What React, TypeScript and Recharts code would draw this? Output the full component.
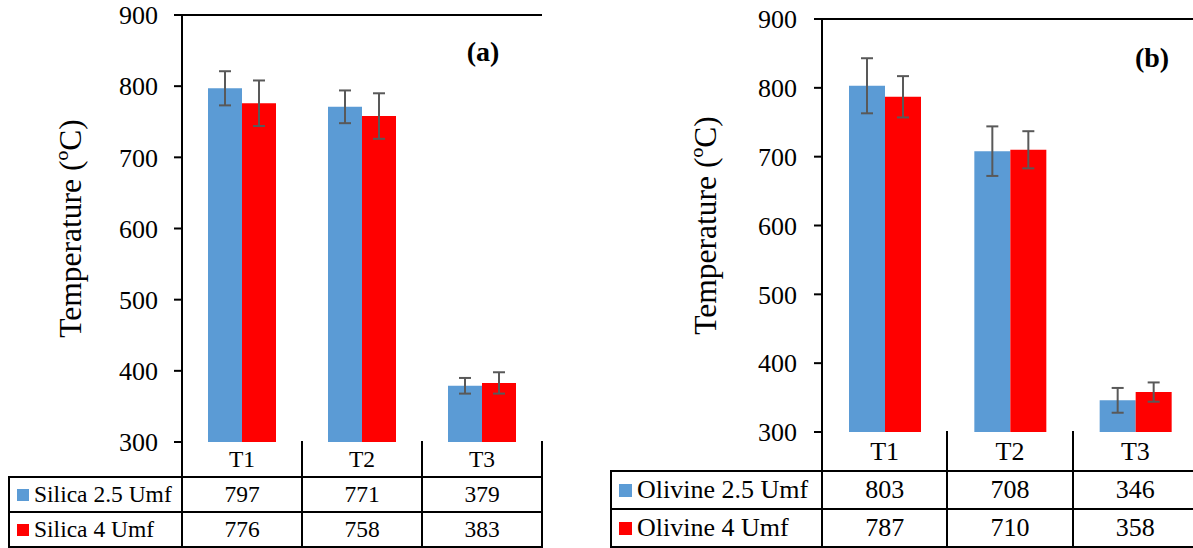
import { BarChart, Bar, XAxis, YAxis, ErrorBar, ReferenceLine } from "recharts"

const categories = ["T1", "T2", "T3"]
const yTicks = [300, 400, 500, 600, 700, 800, 900]

const silicaNames = ["Silica 2.5 Umf", "Silica 4 Umf"]
const silica25 = [797, 771, 379]
const silica4 = [776, 758, 383]
const silica25Err = [24, 23, 11]
const silica4Err = [32, 32, 15]

const olivineNames = ["Olivine 2.5 Umf", "Olivine 4 Umf"]
const olivine25 = [803, 708, 346]
const olivine4 = [787, 710, 358]
const olivine25Err = [40, 36, 18]
const olivine4Err = [30, 27, 14]

const BLUE = "#5B9BD5"
const RED = "#FF0000"
const ERR = "#595959"
const FONT = `"Liberation Serif", "Times New Roman", serif`
const H = 548

type PanelProps = {
  tag: string
  names: string[]
  first: number[]
  second: number[]
  firstErr: number[]
  secondErr: number[]
  chartLeft: number
  chartWidth: number
  plotLeft: number
  plotRight: number
  plotTop: number
  plotBottom: number
  rows: number[]
  legendLeft: number
  barSize: number
  tickFont: number
  tickMargin: number
  tableFont: number
  square: number
  tagX: number
  tagY: number
  yLabelX: number
}

function Panel(p: PanelProps) {
  const data = categories.map((name, i) => ({
    name,
    a: p.first[i],
    aErr: p.firstErr[i],
    b: p.second[i],
    bErr: p.secondErr[i],
  }))
  const cell = (p.plotRight - p.plotLeft) / categories.length
  const lw = 2
  const hLine = (x1: number, x2: number, y: number, key: string) => (
    <div key={key} style={{ position: "absolute", left: x1 - lw / 2, top: y - lw / 2, width: x2 - x1 + lw, height: lw, background: "#000" }} />
  )
  const vLine = (x: number, y1: number, y2: number, key: string) => (
    <div key={key} style={{ position: "absolute", left: x - lw / 2, top: y1 - lw / 2, width: lw, height: y2 - y1 + lw, background: "#000" }} />
  )
  const lines = [
    hLine(p.legendLeft, p.plotRight, p.rows[1], "h1"),
    hLine(p.legendLeft, p.plotRight, p.rows[2], "h2"),
    hLine(p.legendLeft, p.plotRight, p.rows[3], "h3"),
    vLine(p.legendLeft, p.rows[1], p.rows[3], "vl"),
  ]
  for (let i = 0; i <= categories.length; i++) {
    lines.push(vLine(p.plotLeft + i * cell, p.rows[0], p.rows[3], "v" + i))
  }
  const cellText = (text: string | number, x: number, w: number, y1: number, y2: number, key: string) => (
    <div
      key={key}
      style={{
        position: "absolute", left: x, top: y1, width: w, height: y2 - y1,
        display: "flex", alignItems: "center", justifyContent: "center",
        fontFamily: FONT, fontSize: p.tableFont, color: "#000", whiteSpace: "nowrap",
      }}
    >
      {text}
    </div>
  )
  const texts: any[] = []
  categories.forEach((c, i) => {
    texts.push(cellText(c, p.plotLeft + i * cell, cell, p.rows[0], p.rows[1], "c" + i))
    texts.push(cellText(p.first[i], p.plotLeft + i * cell, cell, p.rows[1], p.rows[2], "f" + i))
    texts.push(cellText(p.second[i], p.plotLeft + i * cell, cell, p.rows[2], p.rows[3], "s" + i))
  })
  const colors = [BLUE, RED]
  p.names.forEach((n, r) => {
    texts.push(
      <div
        key={"lg" + r}
        style={{
          position: "absolute", left: p.legendLeft + 8, top: p.rows[r + 1], height: p.rows[r + 2] - p.rows[r + 1],
          display: "flex", alignItems: "center", fontFamily: FONT, fontSize: p.tableFont, color: "#000", whiteSpace: "nowrap",
        }}
      >
        <span style={{ display: "inline-block", width: p.square, height: p.square, background: colors[r], marginRight: 5 }} />
        {n}
      </div>
    )
  })

  const yLabel = (props: any) => {
    const vb = props.viewBox
    const cx = vb.x + p.yLabelX
    const cy = vb.y + vb.height / 2
    return (
      <text x={cx} y={cy} transform={`rotate(-90 ${cx} ${cy})`} textAnchor="middle" dominantBaseline="central"
        style={{ fontFamily: FONT }} fontSize={31.5} fill="#000">
        Temperature (ºC)
      </text>
    )
  }

  return (
    <>
      <div style={{ position: "absolute", left: p.chartLeft, top: 0 }}>
        <BarChart
          width={p.chartWidth}
          height={H}
          data={data}
          margin={{ top: p.plotTop, right: p.chartLeft + p.chartWidth - p.plotRight, bottom: H - p.plotBottom, left: 0 }}
          barGap={0}
          barSize={p.barSize}
        >
          <XAxis dataKey="name" tick={false} tickLine={false} height={0} axisLine={{ stroke: "#000", strokeWidth: 2 }} />
          <YAxis
            yAxisId="l"
            domain={[300, 900]}
            ticks={yTicks}
            width={p.plotLeft - p.chartLeft}
            tickSize={8}
            tickMargin={p.tickMargin}
            tick={{ fill: "#000", fontSize: p.tickFont, style: { fontFamily: FONT } }}
            axisLine={{ stroke: "#000", strokeWidth: 2 }}
            tickLine={{ stroke: "#000", strokeWidth: 2 }}
            label={{ content: yLabel }}
          />
          <YAxis yAxisId="r" orientation="right" domain={[300, 900]} width={0} tick={false} tickLine={false}
            axisLine={{ stroke: "#000", strokeWidth: 2 }} />
          <ReferenceLine yAxisId="l" y={900} stroke="#000" strokeWidth={2} />
          <Bar yAxisId="l" dataKey="a" fill={BLUE} isAnimationActive={false}>
            <ErrorBar dataKey="aErr" width={6} stroke={ERR} strokeWidth={2} direction="y" />
          </Bar>
          <Bar yAxisId="l" dataKey="b" fill={RED} isAnimationActive={false}>
            <ErrorBar dataKey="bErr" width={6} stroke={ERR} strokeWidth={2} direction="y" />
          </Bar>
        </BarChart>
      </div>
      {lines}
      {texts}
      <div style={{ position: "absolute", left: p.tagX - 40, top: p.tagY - 20, width: 80, height: 40, display: "flex",
        alignItems: "center", justifyContent: "center", fontFamily: FONT, fontWeight: "bold", fontSize: 28, color: "#000" }}>
        {p.tag}
      </div>
    </>
  )
}

export default function App() {
  return (
    <div style={{ position: "absolute", left: 0, top: 0, width: 1193, height: H, overflow: "hidden", background: "#fff", fontFamily: FONT }}>
      <Panel
        tag="(a)" names={silicaNames} first={silica25} second={silica4} firstErr={silica25Err} secondErr={silica4Err}
        chartLeft={0} chartWidth={560} plotLeft={182} plotRight={542} plotTop={15} plotBottom={442}
        rows={[442, 477, 512, 547]} legendLeft={9} barSize={34} tickFont={26} tickMargin={16} tableFont={23.5}
        square={12} tagX={483} tagY={52} yLabelX={70}
      />
      <Panel
        tag="(b)" names={olivineNames} first={olivine25} second={olivine4} firstErr={olivine25Err} secondErr={olivine4Err}
        chartLeft={600} chartWidth={600} plotLeft={822} plotRight={1198} plotTop={19} plotBottom={432}
        rows={[432, 471, 509, 547]} legendLeft={611} barSize={36} tickFont={26} tickMargin={17} tableFont={26}
        square={13} tagX={1152} tagY={58} yLabelX={105}
      />
    </div>
  )
}
